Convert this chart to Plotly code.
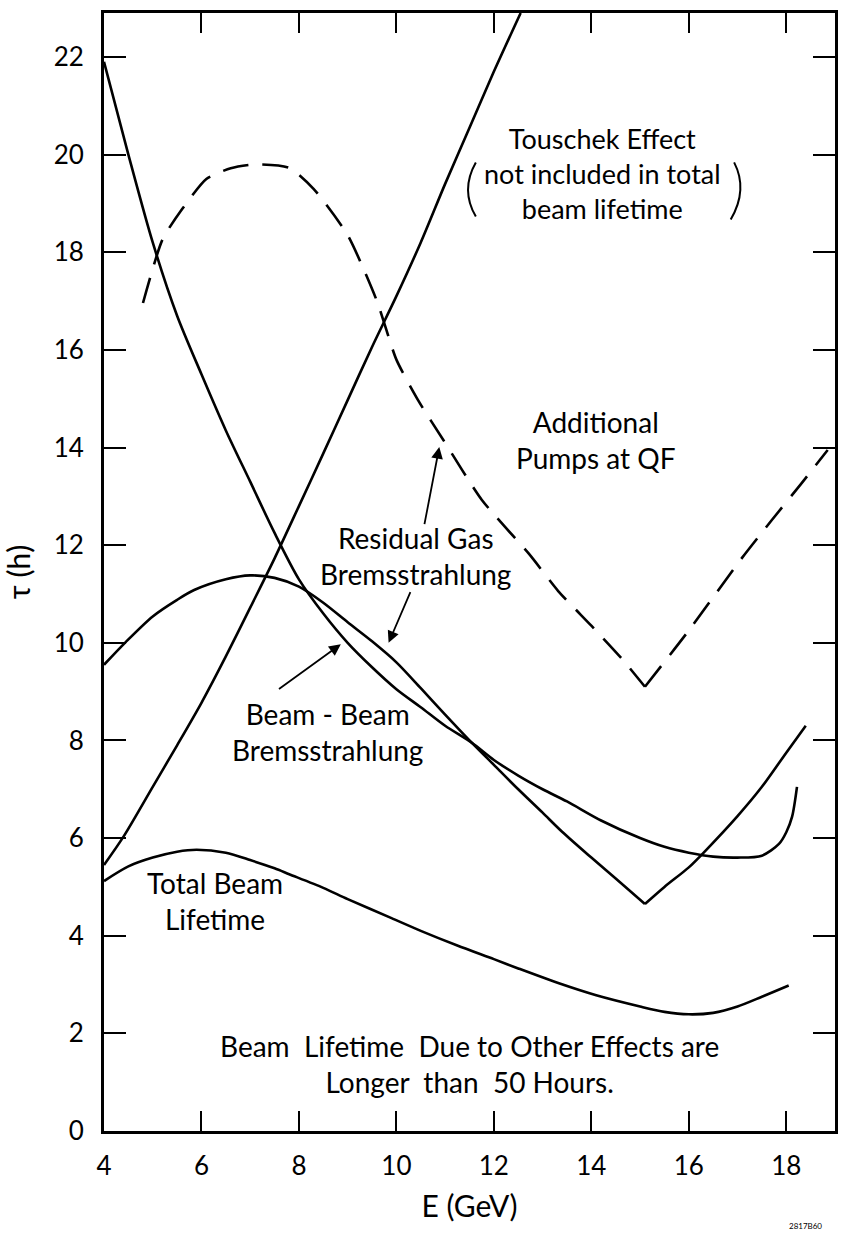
import plotly.graph_objects as go

# ---------------- data ----------------
touschek_E = [4.0, 4.4, 5.0, 5.5, 6.0, 6.5, 7.0, 7.5, 8.0, 8.5, 9.0, 9.5, 10.0, 10.5, 11.0, 11.5, 12.0, 12.55]
touschek_tau = [5.45, 6.03, 7.05, 7.9, 8.77, 9.72, 10.72, 11.73, 12.8, 13.88, 14.97, 16.06, 17.1, 18.2, 19.4, 20.55, 21.7, 22.9]

resgas_E_a = [4.0, 4.45, 5.0, 5.5, 5.85, 6.5, 7.0, 7.5, 8.0, 8.5, 9.0, 9.5, 10.0, 10.5, 11.0, 11.55, 12.0, 12.5, 13.0, 13.4, 14.0, 14.5, 15.1]
resgas_tau_a = [9.55, 10.02, 10.54, 10.88, 11.08, 11.3, 11.38, 11.33, 11.15, 10.82, 10.42, 10.03, 9.6, 9.07, 8.53, 7.95, 7.5, 7.0, 6.52, 6.13, 5.6, 5.17, 4.65]
resgas_E_b = [15.1, 15.5, 16.0, 16.35, 17.0, 17.5, 18.0, 18.4]
resgas_tau_b = [4.65, 5.0, 5.4, 5.75, 6.45, 7.05, 7.75, 8.3]

beambeam_E = [4.0, 4.5, 5.0, 5.5, 6.0, 6.5, 7.0, 7.5, 8.0, 8.5, 9.0, 9.5, 10.0, 10.5, 11.0, 11.55, 12.0, 12.5, 13.0, 13.5,
              14.2, 15.0, 15.5, 16.0, 16.5, 17.0, 17.5, 17.85, 18.0, 18.12, 18.22]
beambeam_tau = [21.9, 20.0, 18.2, 16.7, 15.5, 14.35, 13.3, 12.25, 11.3, 10.6, 10.0, 9.5, 9.05, 8.68, 8.3, 7.95, 7.6, 7.28, 7.0, 6.75,
                6.36, 6.0, 5.82, 5.7, 5.62, 5.6, 5.64, 5.88, 6.12, 6.44, 7.05]

total_E = [4.0, 4.5, 5.0, 5.5, 5.9, 6.5, 7.0, 7.5, 7.8, 8.5, 9.0, 9.9, 10.5, 11.25, 12.0, 12.5, 13.35, 14.1, 15.0, 15.5, 16.0, 16.5, 17.0, 17.5, 18.05]
total_tau = [5.12, 5.42, 5.6, 5.72, 5.76, 5.7, 5.55, 5.38, 5.26, 4.98, 4.75, 4.36, 4.1, 3.8, 3.52, 3.33, 3.02, 2.78, 2.55, 2.44, 2.39, 2.42, 2.55, 2.75, 2.98]

pumps_E_a = [4.8, 5.2, 5.6, 6.1, 6.6, 7.1, 7.8, 8.3, 9.0, 9.6, 10.0, 10.45, 10.96, 11.75, 12.73, 13.32, 14.0, 14.62, 15.1]
pumps_tau_a = [16.96, 18.26, 18.88, 19.5, 19.72, 19.8, 19.73, 19.3, 18.35, 17.0, 15.8, 14.96, 14.16, 12.93, 11.81, 11.06, 10.35, 9.68, 9.1]
pumps_E_b = [15.1, 15.96, 17.1, 17.7, 18.3, 18.85]
pumps_tau_b = [9.1, 10.2, 11.75, 12.51, 13.25, 13.95]

x_ticks = [4, 6, 8, 10, 12, 14, 16, 18]
y_ticks = [0, 2, 4, 6, 8, 10, 12, 14, 16, 18, 20, 22]

FONT = "Lato"
LW = 2.6

fig = go.Figure()
solid = dict(color="black", width=LW, shape="spline", smoothing=0.8)
dashed = dict(color="black", width=LW, shape="spline", smoothing=0.6, dash="26px,14px")

fig.add_trace(go.Scatter(x=touschek_E, y=touschek_tau, mode="lines", line=solid))
fig.add_trace(go.Scatter(x=resgas_E_a, y=resgas_tau_a, mode="lines", line=solid))
fig.add_trace(go.Scatter(x=resgas_E_b, y=resgas_tau_b, mode="lines", line=solid))
fig.add_trace(go.Scatter(x=beambeam_E, y=beambeam_tau, mode="lines", line=solid))
fig.add_trace(go.Scatter(x=total_E, y=total_tau, mode="lines", line=solid))
fig.add_trace(go.Scatter(x=pumps_E_a, y=pumps_tau_a, mode="lines", line=dashed))
fig.add_trace(go.Scatter(x=pumps_E_b, y=pumps_tau_b, mode="lines", line=dashed))


def label(x, y, s, size=28):
    fig.add_annotation(x=x, y=y, xref="x", yref="y", text=s, showarrow=False, align="center",
                       font=dict(family=FONT, size=size, color="black"), xanchor="center", yanchor="middle")


label(14.22, 19.62, "Touschek Effect<br>not included in total<br>beam lifetime", size=27)
label(14.1, 14.15, "Additional<br>Pumps at QF")
label(10.4, 11.77, "Residual Gas<br>Bremsstrahlung")
label(8.58, 8.17, "Beam - Beam<br>Bremsstrahlung")
label(6.28, 4.71, "Total Beam<br>Lifetime")
label(11.5, 1.38, "Beam  Lifetime  Due to Other Effects are<br>Longer  than  50 Hours.")

# parentheses around the Touschek note
fig.add_shape(type="path", xref="x", yref="y", path="M 11.63,19.84 Q 11.31,19.28 11.63,18.73",
              line=dict(color="black", width=2))
fig.add_shape(type="path", xref="x", yref="y", path="M 16.93,19.84 Q 17.22,19.28 16.86,18.67",
              line=dict(color="black", width=2))

arrow = dict(xref="x", yref="y", axref="x", ayref="y", showarrow=True, arrowhead=2,
             arrowsize=1.3, arrowwidth=1.8, arrowcolor="black", text="")
fig.add_annotation(x=10.88, y=14.01, ax=10.57, ay=12.4, **arrow)
fig.add_annotation(x=9.84, y=10.0, ax=10.3, ay=11.07, **arrow)
fig.add_annotation(x=8.86, y=9.97, ax=7.56, ay=9.03, **arrow)

fig.add_annotation(x=0.985, y=-0.085, xref="paper", yref="paper", text="2817B60", showarrow=False,
                   font=dict(family=FONT, size=8, color="black"), xanchor="right", yanchor="middle")

axis_common = dict(showgrid=False, zeroline=False, showline=True, linecolor="black", linewidth=2.8,
                   mirror="ticks", ticks="inside", tickcolor="black", tickwidth=2.2,
                   tickfont=dict(family=FONT, size=26, color="black"))

fig.update_xaxes(range=[4, 19], tickvals=x_ticks, ticktext=[str(v) for v in x_ticks], ticklen=20,
                 ticklabelstandoff=10,
                 title=dict(text="E (GeV)", font=dict(family=FONT, size=30, color="black"), standoff=16),
                 **axis_common)
fig.update_yaxes(range=[0, 22.9], tickvals=y_ticks, ticktext=[str(v) for v in y_ticks], ticklen=22,
                 ticklabelstandoff=12,
                 title=dict(text="τ (h)", font=dict(family=FONT, size=30, color="black"), standoff=20),
                 **axis_common)

fig.update_layout(width=848, height=1237, margin=dict(l=104, r=13, t=10, b=106),
                  plot_bgcolor="white", paper_bgcolor="white", showlegend=False,
                  font=dict(family=FONT, size=26, color="black"))

fig.write_html("out.html")
